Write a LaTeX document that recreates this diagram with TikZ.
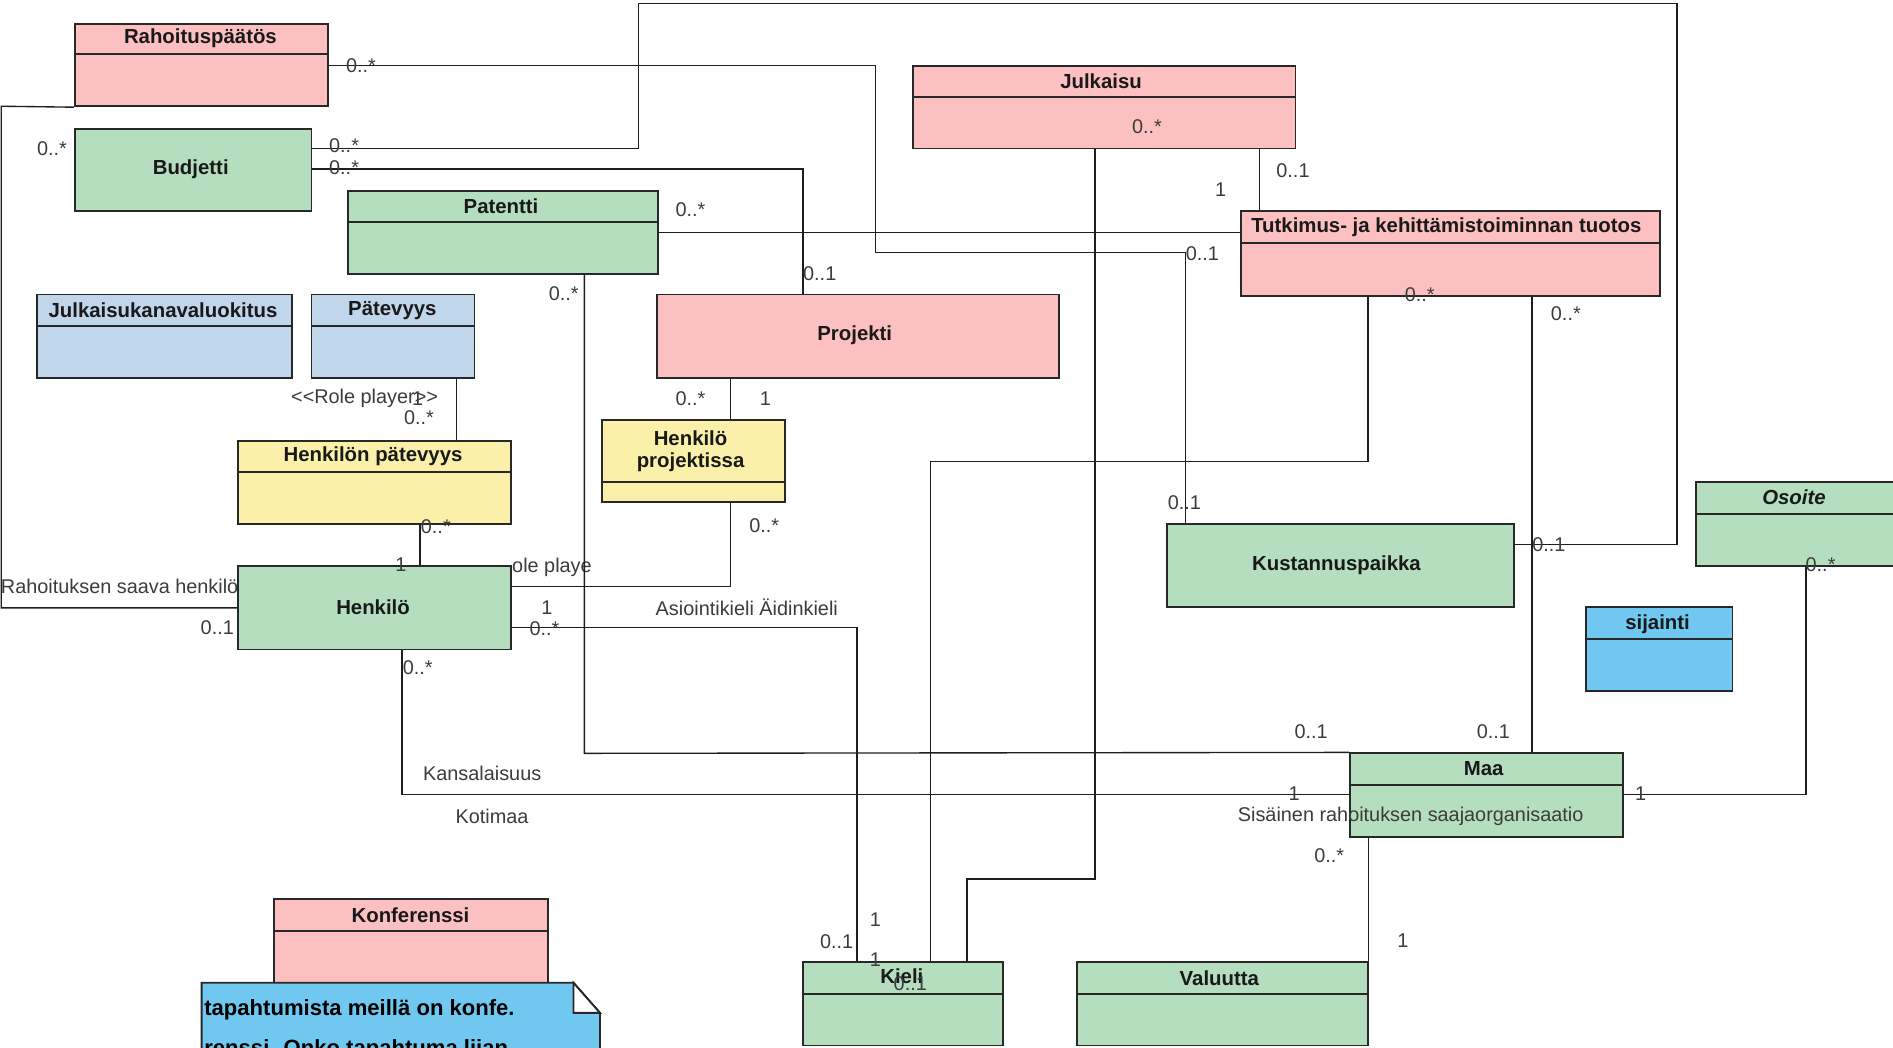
\documentclass[tikz,border=0pt]{standalone}
\usepackage{fontspec}
\setmainfont{Liberation Sans}
\definecolor{cpink}{RGB}{252,192,192}
\definecolor{cgreen}{RGB}{180,222,190}
\definecolor{cgrey}{RGB}{192,214,234}
\definecolor{cyell}{RGB}{250,240,170}
\definecolor{cblue}{RGB}{112,200,240}
\definecolor{boxline}{RGB}{40,40,40}
\definecolor{linecol}{RGB}{30,30,30}
\definecolor{ttltext}{RGB}{25,25,25}
\definecolor{multtext}{RGB}{60,60,60}
\begin{document}
\begin{tikzpicture}[x=0.025cm, y=-0.025cm,
  cls/.style={draw=boxline, line width=1.1pt, inner sep=0pt},
  hdr/.style={draw=boxline, line width=1.1pt},
  ttl/.style={font=\fontsize{12}{14}\selectfont\bfseries, text=ttltext, inner sep=0pt},
  mult/.style={font=\fontsize{11.7}{13}\selectfont, text=multtext, inner sep=0pt},
  assoc/.style={draw=linecol, line width=0.8pt}]
\useasboundingbox (0,0) rectangle (1568,868);
\clip (0,0) rectangle (1568,868);
\fill[white] (0,0) rectangle (1568,868);
% bends
\coordinate (a1) at (1,88);
\coordinate (b1) at (725,209);
\coordinate (b2) at (982,209);
\coordinate (c1) at (529,123);
\coordinate (c2) at (1389,3);
\coordinate (c3) at (1389,451);
\coordinate (d1) at (665,140);
\coordinate (f1) at (484,624);
\coordinate (g1) at (378,340);
\coordinate (h1) at (348,450);
\coordinate (i1) at (605,330);
\coordinate (j1) at (605,486);
\coordinate (k1) at (710,520);
\coordinate (l1) at (771,382);
\coordinate (l2) at (1133,382);
\coordinate (m1) at (801,728);
\coordinate (m2) at (907,728);
\coordinate (n1) at (1269,400);
\coordinate (o1) at (1043,150);
\coordinate (p1) at (333,658);
\coordinate (q1) at (1496,658);
% texts under the boxes
\node[mult, anchor=west] (lb1) at (0.5,486) {Rahoituksen saava henkilö};
\node[mult, anchor=west] (lb2) at (424,470) {ole playe};
% classes
\node[cls, fill=cpink, minimum width=5.25cm, minimum height=1.7cm] (rp) at (167,54) {};
\node[cls, fill=cgreen, minimum width=4.9cm, minimum height=1.7cm] (bu) at (160,141) {};
\node[cls, fill=cgreen, minimum width=6.425cm, minimum height=1.725cm] (pa) at (416.5,192.5) {};
\node[cls, fill=cgrey, minimum width=5.275cm, minimum height=1.725cm] (jk) at (136.5,278.5) {};
\node[cls, fill=cgrey, minimum width=3.375cm, minimum height=1.725cm] (pt) at (325.5,278.5) {};
\node[cls, fill=cyell, minimum width=5.65cm, minimum height=1.725cm] (hp) at (310,399.5) {};
\node[cls, fill=cgreen, minimum width=5.65cm, minimum height=1.725cm] (he) at (310,503.5) {};
\node[cls, fill=cpink, minimum width=8.325cm, minimum height=1.725cm] (pr) at (710.5,278.5) {};
\node[cls, fill=cyell, minimum width=3.775cm, minimum height=1.7cm] (hpr) at (574.5,382) {};
\node[cls, fill=cpink, minimum width=7.925cm, minimum height=1.7cm] (ju) at (914.5,89) {};
\node[cls, fill=cpink, minimum width=8.675cm, minimum height=1.75cm] (tu) at (1201.5,210) {};
\node[cls, fill=cgreen, minimum width=7.175cm, minimum height=1.725cm] (ku) at (1110.5,468.5) {};
\node[cls, fill=cgreen, minimum width=4.125cm, minimum height=1.75cm] (os) at (1487.5,434) {};
\node[cls, fill=cblue, minimum width=3.025cm, minimum height=1.725cm] (si) at (1374.5,537.5) {};
\node[cls, fill=cgreen, minimum width=5.65cm, minimum height=1.725cm] (ma) at (1231,658.5) {};
\node[cls, fill=cgreen, minimum width=6.025cm, minimum height=1.725cm] (va) at (1012.5,831.5) {};
\node[cls, fill=cgreen, minimum width=4.15cm, minimum height=1.725cm] (ki) at (748,831.5) {};
\node[cls, fill=cpink, minimum width=5.675cm, minimum height=2.125cm] (ko) at (340.5,787.5) {};
% compartments
\draw[hdr] (rp.west |- 0,45) -- (rp.east |- 0,45);
\draw[hdr] (pa.west |- 0,184) -- (pa.east |- 0,184);
\draw[hdr] (jk.west |- 0,270) -- (jk.east |- 0,270);
\draw[hdr] (pt.west |- 0,270) -- (pt.east |- 0,270);
\draw[hdr] (hp.west |- 0,391) -- (hp.east |- 0,391);
\draw[hdr] (hpr.west |- 0,399.5) -- (hpr.east |- 0,399.5);
\draw[hdr] (ju.west |- 0,80.6) -- (ju.east |- 0,80.6);
\draw[hdr] (tu.west |- 0,201.5) -- (tu.east |- 0,201.5);
\draw[hdr] (os.west |- 0,426) -- (os.east |- 0,426);
\draw[hdr] (si.west |- 0,529) -- (si.east |- 0,529);
\draw[hdr] (ma.west |- 0,650) -- (ma.east |- 0,650);
\draw[hdr] (va.west |- 0,823) -- (va.east |- 0,823);
\draw[hdr] (ki.west |- 0,823) -- (ki.east |- 0,823);
\draw[hdr] (ko.west |- 0,771) -- (ko.east |- 0,771);
% associations
\draw[assoc] (rp.south west) -- (a1) |- (he.west);
\draw[assoc] (rp.east) -| (b1) -- (b2) -- (b2 |- ku.north);
\draw[assoc] (c1 -| bu.east) -- (c1) |- (c2) -- (c3) -- (c3 -| ku.east);
\draw[assoc] (d1 -| bu.east) -- (d1) -- (d1 |- pr.north);
\draw[assoc] (pa.east) -- (pa.east -| tu.west);
\draw[assoc] (f1 |- pa.south) -- (f1) -- (ma.north west);
\draw[assoc] (g1 |- pt.south) -- (g1 |- hp.north);
\draw[assoc] (h1 |- hp.south) -- (h1 |- he.north);
\draw[assoc] (i1 |- pr.south) -- (i1 |- hpr.north);
\draw[assoc] (j1 |- hpr.south) -- (j1) -- (j1 -| he.east);
\draw[assoc] (k1 -| he.east) -- (k1) -- (k1 |- ki.north);
\draw[assoc] (l1 |- ki.north) -- (l1) -- (l2) -- (l2 |- tu.south);
\draw[assoc] (m1 |- ki.north) -- (m1) -- (m2) -- (m2 |- ju.south);
\draw[assoc] (n1 |- tu.south) -- (n1 |- ma.north);
\draw[assoc] (o1 |- ju.south) -- (o1 |- tu.north);
\draw[assoc] (p1 |- he.south) -- (p1) -- (p1 -| ma.west);
\draw[assoc] (q1 |- os.south) -- (q1) -- (q1 -| ma.east);
\draw[assoc] (ma.south -| va.north east) -- (va.north east);
% titles
\node[ttl] (rp-t) at (166,32) {Rahoituspäätös};
\node[ttl] (bu-t) at (158,140) {Budjetti};
\node[ttl] (pa-t) at (415,171) {Patentti};
\node[ttl] (jk-t) at (135,257) {Julkaisukanavaluokitus};
\node[ttl] (pt-t) at (325,257) {Pätevyys};
\node[ttl] (hp-t) at (309,378) {Henkilön pätevyys};
\node[ttl] (he-t) at (309,503) {Henkilö};
\node[ttl] (pr-t) at (708,278) {Projekti};
\node[ttl, align=center] (hpr-t) at (572,374) {Henkilö\\[-1pt]projektissa};
\node[ttl] (ju-t) at (912,67) {Julkaisu};
\node[ttl] (tu-t) at (1198,188) {Tutkimus- ja kehittämistoiminnan tuotos};
\node[ttl] (ku-t) at (1107,468) {Kustannuspaikka};
\node[ttl, font=\fontsize{12}{14}\selectfont\bfseries\itshape] (os-t) at (1486,412) {Osoite};
\node[ttl] (si-t) at (1373,517) {sijainti};
\node[ttl] (ma-t) at (1229,637) {Maa};
\node[ttl] (va-t) at (1010,810) {Valuutta};
\node[ttl] (ki-t) at (747,809) {Kieli};
\node[ttl] (ko-t) at (340,758) {Konferenssi};
% note
\draw[fill=cblue, draw=boxline, line width=1.1pt] (167,814) -- (475,814) -- (497,839) -- (497,880) -- (167,880) -- cycle;
\draw[fill=white, draw=boxline, line width=1.1pt] (475,814) -- (475,839) -- (497,839) -- cycle;
\node[anchor=base west, inner sep=0pt, font=\fontsize{13}{15}\selectfont\bfseries, text=black] (nt1) at (169,841) {tapahtumista meillä on konfe.};
\node[anchor=base west, inner sep=0pt, font=\fontsize{13}{15}\selectfont\bfseries, text=black] (nt2) at (169,874) {renssi. Onko tapahtuma liian};
% multiplicities and roles
\node[mult] (lb3) at (299,54) {0..*};
\node[mult] (lb4) at (43,123) {0..*};
\node[mult] (lb5) at (285,121) {0..*};
\node[mult] (lb6) at (285,139) {0..*};
\node[mult] (lb7) at (572,174) {0..*};
\node[mult] (lb8) at (467,243) {0..*};
\node[mult] (lb9) at (679,227) {0..1};
\node[mult] (lb10) at (1011,157) {1};
\node[mult] (lb11) at (1071,141) {0..1};
\node[mult] (lb12) at (996,210) {0..1};
\node[mult] (lb13) at (950,105) {0..*};
\node[mult] (lb14) at (1176,244) {0..*};
\node[mult] (lb15) at (1297,260) {0..*};
\node[mult] (lb16) at (302,330) {<\kern0pt<Role player>\kern0pt>};
\node[mult] (lb17) at (346,330) {1};
\node[mult] (lb18) at (347,346) {0..*};
\node[mult] (lb19) at (361,436) {0..*};
\node[mult] (lb20) at (332,468) {1};
\node[mult] (lb21) at (572,330) {0..*};
\node[mult] (lb22) at (634,330) {1};
\node[mult] (lb23) at (633,435) {0..*};
\node[mult] (lb24) at (453,503) {1};
\node[mult] (lb25) at (451,521) {0..*};
\node[mult] (lb26) at (618.6,503) {Asiointikieli Äidinkieli};
\node[mult] (lb27) at (180,520) {0..1};
\node[mult] (lb28) at (346,553) {0..*};
\node[mult] (lb29) at (399.4,641) {Kansalaisuus};
\node[mult] (lb30) at (407.5,676) {Kotimaa};
\node[mult] (lb31) at (1086,606) {0..1};
\node[mult] (lb32) at (1237,606) {0..1};
\node[mult] (lb33) at (1072,657) {1};
\node[mult] (lb34) at (1168.5,676) {Sisäinen rahoituksen saajaorganisaatio};
\node[mult] (lb35) at (1359,657) {1};
\node[mult] (lb36) at (1508,468) {0..*};
\node[mult] (lb37) at (1283,451) {0..1};
\node[mult] (lb38) at (981,416) {0..1};
\node[mult] (lb39) at (1101,709) {0..*};
\node[mult] (lb40) at (1162,779) {1};
\node[mult] (lb41) at (693,780) {0..1};
\node[mult] (lb42) at (725,762) {1};
\node[mult] (lb43) at (725,795) {1};
\node[mult] (lb44) at (754,815) {0..1};
\end{tikzpicture}
\end{document}
